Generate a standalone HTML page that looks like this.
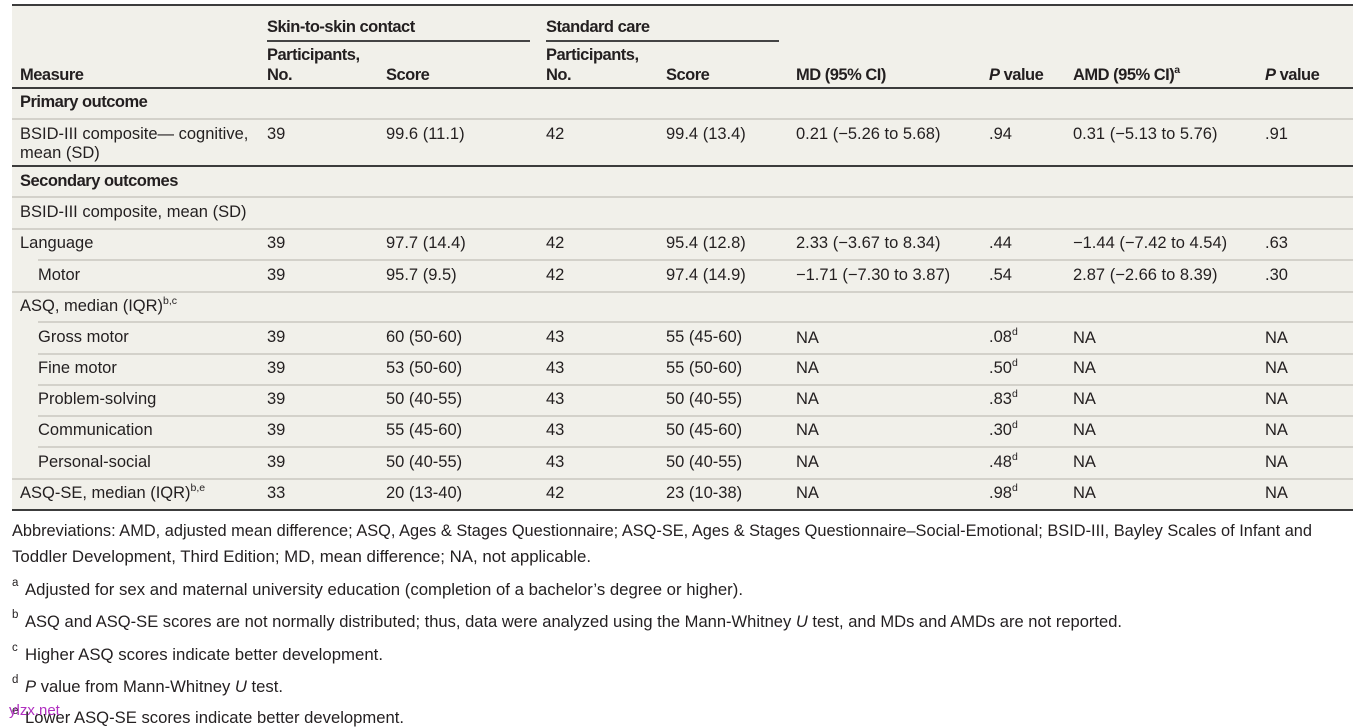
<!DOCTYPE html>
<html>
<head>
<meta charset="utf-8">
<style>
  html, body { margin:0; padding:0; background:#ffffff; }
  body { width:1366px; height:727px; position:relative; overflow:hidden;
         font-family:"Liberation Sans", "DejaVu Sans", sans-serif; color:#231f20; }
  .bg { position:absolute; left:12px; top:5px; width:1341px; height:505px; background:#f1f0ea; }
  .ln { position:absolute; height:2px; }
  .dk { background:#3c3c3c; }
  .lt { background:#d3d1ca; }
  .t { position:absolute; font-size:16.5px; line-height:20px; white-space:nowrap; }
  .b { font-weight:bold; letter-spacing:-0.5px; }
  sup { font-size:10.5px; line-height:0; position:relative; top:-1px; vertical-align:super; letter-spacing:0; }
  .fn { position:absolute; font-size:17px; line-height:20px; white-space:nowrap; }
  .fit { display:inline-block; transform-origin:0 50%; white-space:nowrap; }
  .sl { position:absolute; font-size:11.5px; line-height:12px; }
  .wm { position:absolute; left:9px; top:703px; font-size:15px; color:#b02fc0; line-height:16px; }
</style>
</head>
<body>
<div class="bg"></div>

<!-- lines -->
<div class="ln dk" style="left:12px;top:4px;width:1341px;"></div>
<div class="ln" style="left:267px;top:40px;width:263px;height:1.5px;background:#444;"></div>
<div class="ln" style="left:546px;top:40px;width:233px;height:1.5px;background:#444;"></div>
<div class="ln dk" style="left:12px;top:87px;width:1341px;"></div>
<div class="ln lt" style="left:12px;top:118px;width:1341px;"></div>
<div class="ln dk" style="left:12px;top:165px;width:1341px;"></div>
<div class="ln lt" style="left:12px;top:196px;width:1341px;"></div>
<div class="ln lt" style="left:12px;top:228px;width:1341px;"></div>
<div class="ln lt" style="left:38px;top:259px;width:1315px;"></div>
<div class="ln lt" style="left:12px;top:291px;width:1341px;"></div>
<div class="ln lt" style="left:38px;top:321px;width:1315px;"></div>
<div class="ln lt" style="left:38px;top:353px;width:1315px;"></div>
<div class="ln lt" style="left:38px;top:384px;width:1315px;"></div>
<div class="ln lt" style="left:38px;top:415px;width:1315px;"></div>
<div class="ln lt" style="left:38px;top:446px;width:1315px;"></div>
<div class="ln lt" style="left:12px;top:478px;width:1341px;"></div>
<div class="ln dk" style="left:12px;top:509px;width:1341px;"></div>

<!-- header -->
<div class="t b" style="left:267px;top:17px;">Skin-to-skin contact</div>
<div class="t b" style="left:546px;top:17px;">Standard care</div>
<div class="t b" style="left:267px;top:45px;">Participants,</div>
<div class="t b" style="left:267px;top:65px;">No.</div>
<div class="t b" style="left:546px;top:45px;">Participants,</div>
<div class="t b" style="left:546px;top:65px;">No.</div>
<div class="t b" style="left:20px;top:65px;">Measure</div>
<div class="t b" style="left:386px;top:65px;">Score</div>
<div class="t b" style="left:666px;top:65px;">Score</div>
<div class="t b" style="left:796px;top:65px;">MD (95% CI)</div>
<div class="t b" style="left:989px;top:65px;"><i>P</i> value</div>
<div class="t b" style="left:1073px;top:65px;">AMD (95% CI)<sup>a</sup></div>
<div class="t b" style="left:1265px;top:65px;"><i>P</i> value</div>

<!-- Primary outcome -->
<div class="t b" style="left:20px;top:92px;">Primary outcome</div>

<div class="t" style="left:20px;top:124px;">BSID-III composite— cognitive,</div>
<div class="t" style="left:20px;top:143px;">mean (SD)</div>
<div class="t" style="left:267px;top:124px;">39</div>
<div class="t" style="left:386px;top:124px;">99.6 (11.1)</div>
<div class="t" style="left:546px;top:124px;">42</div>
<div class="t" style="left:666px;top:124px;">99.4 (13.4)</div>
<div class="t" style="left:796px;top:124px;">0.21 (−5.26 to 5.68)</div>
<div class="t" style="left:989px;top:124px;">.94</div>
<div class="t" style="left:1073px;top:124px;">0.31 (−5.13 to 5.76)</div>
<div class="t" style="left:1265px;top:124px;">.91</div>

<!-- Secondary -->
<div class="t b" style="left:20px;top:171px;">Secondary outcomes</div>
<div class="t" style="left:20px;top:202px;">BSID-III composite, mean (SD)</div>

<div class="t" style="left:20px;top:233px;">Language</div>
<div class="t" style="left:267px;top:233px;">39</div>
<div class="t" style="left:386px;top:233px;">97.7 (14.4)</div>
<div class="t" style="left:546px;top:233px;">42</div>
<div class="t" style="left:666px;top:233px;">95.4 (12.8)</div>
<div class="t" style="left:796px;top:233px;">2.33 (−3.67 to 8.34)</div>
<div class="t" style="left:989px;top:233px;">.44</div>
<div class="t" style="left:1073px;top:233px;">−1.44 (−7.42 to 4.54)</div>
<div class="t" style="left:1265px;top:233px;">.63</div>

<div class="t" style="left:38px;top:265px;">Motor</div>
<div class="t" style="left:267px;top:265px;">39</div>
<div class="t" style="left:386px;top:265px;">95.7 (9.5)</div>
<div class="t" style="left:546px;top:265px;">42</div>
<div class="t" style="left:666px;top:265px;">97.4 (14.9)</div>
<div class="t" style="left:796px;top:265px;">−1.71 (−7.30 to 3.87)</div>
<div class="t" style="left:989px;top:265px;">.54</div>
<div class="t" style="left:1073px;top:265px;">2.87 (−2.66 to 8.39)</div>
<div class="t" style="left:1265px;top:265px;">.30</div>

<div class="t" style="left:20px;top:296px;">ASQ, median (IQR)<sup>b,c</sup></div>

<div class="t" style="left:38px;top:327px;">Gross motor</div>
<div class="t" style="left:267px;top:327px;">39</div>
<div class="t" style="left:386px;top:327px;">60 (50-60)</div>
<div class="t" style="left:546px;top:327px;">43</div>
<div class="t" style="left:666px;top:327px;">55 (45-60)</div>
<div class="t" style="left:796px;top:328px;">NA</div>
<div class="t" style="left:989px;top:327px;">.08<sup>d</sup></div>
<div class="t" style="left:1073px;top:328px;">NA</div>
<div class="t" style="left:1265px;top:328px;">NA</div>

<div class="t" style="left:38px;top:358px;">Fine motor</div>
<div class="t" style="left:267px;top:358px;">39</div>
<div class="t" style="left:386px;top:358px;">53 (50-60)</div>
<div class="t" style="left:546px;top:358px;">43</div>
<div class="t" style="left:666px;top:358px;">55 (50-60)</div>
<div class="t" style="left:796px;top:358px;">NA</div>
<div class="t" style="left:989px;top:358px;">.50<sup>d</sup></div>
<div class="t" style="left:1073px;top:358px;">NA</div>
<div class="t" style="left:1265px;top:358px;">NA</div>

<div class="t" style="left:38px;top:389px;">Problem-solving</div>
<div class="t" style="left:267px;top:389px;">39</div>
<div class="t" style="left:386px;top:389px;">50 (40-55)</div>
<div class="t" style="left:546px;top:389px;">43</div>
<div class="t" style="left:666px;top:389px;">50 (40-55)</div>
<div class="t" style="left:796px;top:389px;">NA</div>
<div class="t" style="left:989px;top:389px;">.83<sup>d</sup></div>
<div class="t" style="left:1073px;top:389px;">NA</div>
<div class="t" style="left:1265px;top:389px;">NA</div>

<div class="t" style="left:38px;top:420px;">Communication</div>
<div class="t" style="left:267px;top:420px;">39</div>
<div class="t" style="left:386px;top:420px;">55 (45-60)</div>
<div class="t" style="left:546px;top:420px;">43</div>
<div class="t" style="left:666px;top:420px;">50 (45-60)</div>
<div class="t" style="left:796px;top:420px;">NA</div>
<div class="t" style="left:989px;top:420px;">.30<sup>d</sup></div>
<div class="t" style="left:1073px;top:420px;">NA</div>
<div class="t" style="left:1265px;top:420px;">NA</div>

<div class="t" style="left:38px;top:452px;">Personal-social</div>
<div class="t" style="left:267px;top:452px;">39</div>
<div class="t" style="left:386px;top:452px;">50 (40-55)</div>
<div class="t" style="left:546px;top:452px;">43</div>
<div class="t" style="left:666px;top:452px;">50 (40-55)</div>
<div class="t" style="left:796px;top:452px;">NA</div>
<div class="t" style="left:989px;top:452px;">.48<sup>d</sup></div>
<div class="t" style="left:1073px;top:452px;">NA</div>
<div class="t" style="left:1265px;top:452px;">NA</div>

<div class="t" style="left:20px;top:483px;">ASQ-SE, median (IQR)<sup>b,e</sup></div>
<div class="t" style="left:267px;top:483px;">33</div>
<div class="t" style="left:386px;top:483px;">20 (13-40)</div>
<div class="t" style="left:546px;top:483px;">42</div>
<div class="t" style="left:666px;top:483px;">23 (10-38)</div>
<div class="t" style="left:796px;top:483px;">NA</div>
<div class="t" style="left:989px;top:483px;">.98<sup>d</sup></div>
<div class="t" style="left:1073px;top:483px;">NA</div>
<div class="t" style="left:1265px;top:483px;">NA</div>

<!-- footnotes -->
<div class="fn" style="left:12px;top:521px;"><span class="fit" style="--w:1300;">Abbreviations: AMD, adjusted mean difference; ASQ, Ages &amp; Stages Questionnaire; ASQ-SE, Ages &amp; Stages Questionnaire–Social-Emotional; BSID-III, Bayley Scales of Infant and</span></div>
<div class="fn" style="left:12px;top:547px;"><span class="fit" style="--w:579;">Toddler Development, Third Edition; MD, mean difference; NA, not applicable.</span></div>

<div class="sl" style="left:12px;top:577px;">a</div>
<div class="fn" style="left:25px;top:580px;"><span class="fit" style="--w:718;">Adjusted for sex and maternal university education (completion of a bachelor’s degree or higher).</span></div>

<div class="sl" style="left:12px;top:609px;">b</div>
<div class="fn" style="left:25px;top:612px;"><span class="fit" style="--w:1097;">ASQ and ASQ-SE scores are not normally distributed; thus, data were analyzed using the Mann-Whitney <i>U</i> test, and MDs and AMDs are not reported.</span></div>

<div class="sl" style="left:12px;top:642px;">c</div>
<div class="fn" style="left:25px;top:645px;"><span class="fit" style="--w:358;">Higher ASQ scores indicate better development.</span></div>

<div class="sl" style="left:12px;top:674px;">d</div>
<div class="fn" style="left:25px;top:677px;"><span class="fit" style="--w:258;"><i>P</i> value from Mann-Whitney <i>U</i> test.</span></div>

<div class="sl" style="left:12px;top:705px;">e</div>
<div class="fn" style="left:25px;top:708px;"><span class="fit" style="--w:379;">Lower ASQ-SE scores indicate better development.</span></div>

<div class="wm">ylzx.net</div>

<script>
(function(){
  var els = document.querySelectorAll('.fit');
  for (var i = 0; i < els.length; i++) {
    var el = els[i];
    var w = parseFloat(getComputedStyle(el).getPropertyValue('--w'));
    var cur = el.getBoundingClientRect().width;
    if (w && cur) {
      el.style.transform = 'scaleX(' + (w / cur) + ')';
    }
  }
})();
</script>
</body>
</html>
